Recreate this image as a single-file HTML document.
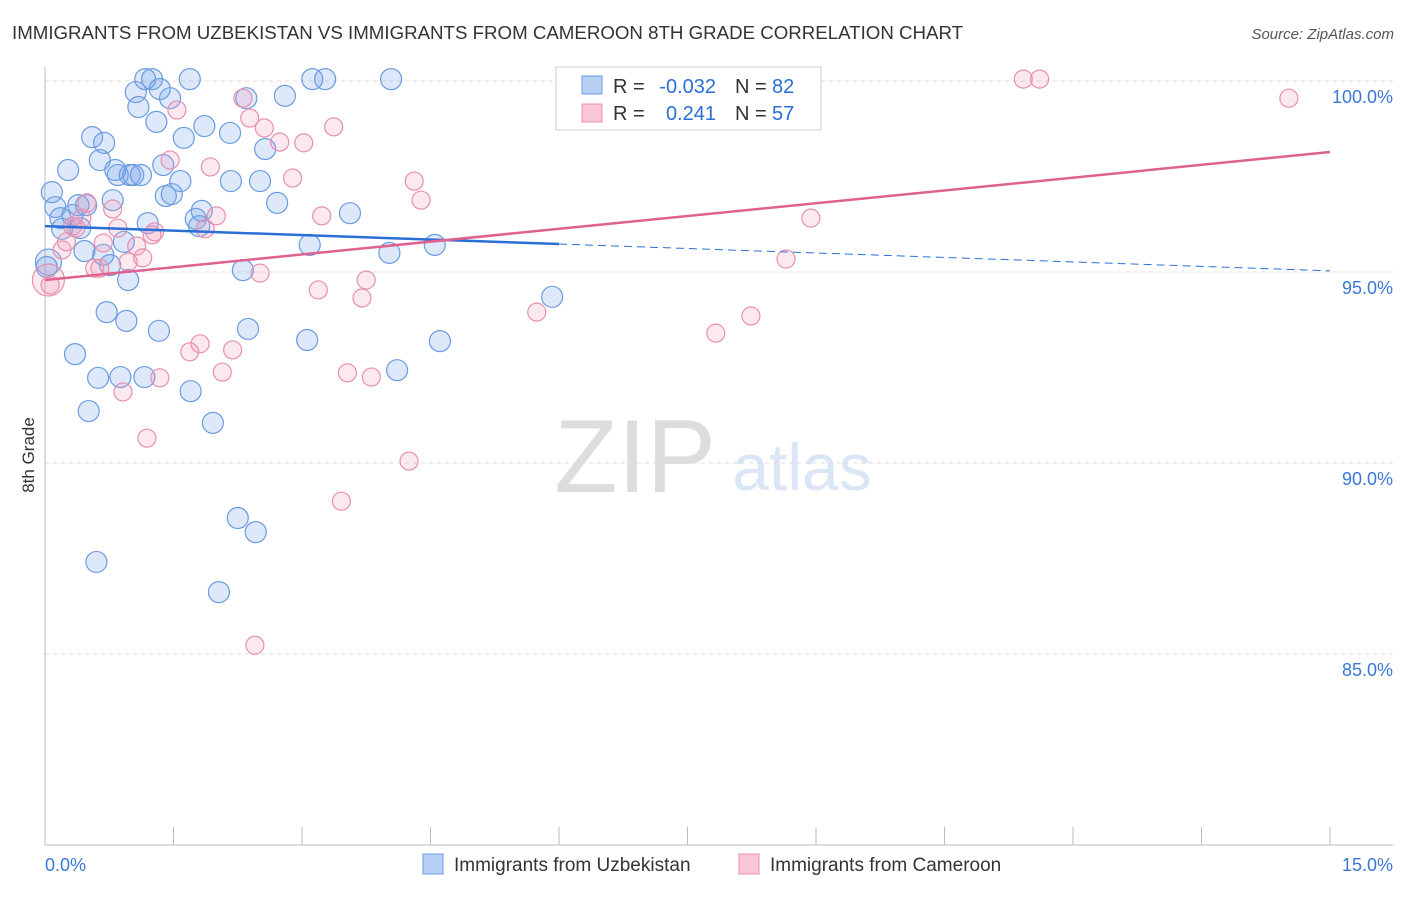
<!DOCTYPE html>
<html><head><meta charset="utf-8"><style>
body{margin:0;background:#fff;font-family:"Liberation Sans",sans-serif}
svg text{font-family:"Liberation Sans",sans-serif}
</style></head><body>
<svg id="c" width="1406" height="892">
<text x="12" y="39" font-size="18.7" fill="#333">IMMIGRANTS FROM UZBEKISTAN VS IMMIGRANTS FROM CAMEROON 8TH GRADE CORRELATION CHART</text>
<text x="1394" y="39" font-size="15" fill="#555" font-style="italic" text-anchor="end">Source: ZipAtlas.com</text>
<text transform="translate(34,455) rotate(-90)" font-size="17" fill="#333" text-anchor="middle">8th Grade</text>
<g><text x="635" y="492" font-size="104" fill="#ddd" font-family="Liberation Serif" text-anchor="middle">ZIP</text><text x="802" y="490" font-size="66" fill="#dae6f6" text-anchor="middle">atlas</text></g>
<g id="grid"></g><g id="axes"></g><g id="pts"></g><g id="lines"></g>
<g>
<rect x="556" y="67" width="265" height="63" fill="#fff" stroke="#ccc"/>
<rect x="582" y="76" width="20" height="18" fill="#b8d0f3" stroke="#6a9be0"/>
<rect x="582" y="104" width="20" height="18" fill="#f8c6d5" stroke="#e890ad"/>
<text x="613" y="93" font-size="20" fill="#333">R =</text>
<text x="716" y="93" font-size="20" fill="#2a6fd6" text-anchor="end">-0.032</text>
<text x="735" y="93" font-size="20" fill="#333">N =</text>
<text x="772" y="93" font-size="20" fill="#2a6fd6">82</text>
<text x="613" y="120" font-size="20" fill="#333">R =</text>
<text x="716" y="120" font-size="20" fill="#2a6fd6" text-anchor="end">0.241</text>
<text x="735" y="120" font-size="20" fill="#333">N =</text>
<text x="772" y="120" font-size="20" fill="#2a6fd6">57</text>
</g>
<g>
<rect x="423" y="854" width="20" height="20" fill="#b8d0f3" stroke="#6a9be0"/>
<text x="454" y="871" font-size="19" fill="#333">Immigrants from Uzbekistan</text>
<rect x="739" y="854" width="20" height="20" fill="#f8c6d5" stroke="#e890ad"/>
<text x="770" y="871" font-size="19" fill="#333">Immigrants from Cameroon</text>
</g>
</svg>
<script>
const blueX=[.08,.12,.04,.02,.18,.20,.27,.32,.35,.39,.41,.46,.48,.51,.55,.60,.62,.64,.68,.69,.72,.76,.79,.82,.85,.88,.92,.95,.97,.99,1.03,1.06,1.09,1.12,1.16,1.17,1.20,1.25,1.30,1.33,1.34,1.38,1.41,1.46,1.48,1.58,1.62,1.69,1.70,1.76,1.80,1.83,1.86,1.96,2.03,2.16,2.17,2.25,2.31,2.35,2.37,2.46,2.51,2.57,2.71,2.80,3.06,3.09,3.12,3.27,3.56,4.02,4.04,4.11,4.55,4.61,5.92];
const blueY=[97.09,96.70,95.26,95.13,96.41,96.13,97.67,96.49,92.85,96.75,96.15,95.55,96.75,91.36,98.53,87.41,92.23,97.93,95.45,98.38,93.95,95.18,96.88,97.67,97.54,92.25,95.79,93.72,94.79,97.54,97.54,99.71,99.32,97.54,92.25,100.05,96.28,100.05,98.93,93.46,99.79,97.80,96.99,99.55,97.04,97.38,98.51,100.05,91.88,96.39,96.20,96.60,98.82,91.05,86.62,98.64,97.38,88.56,95.05,99.55,93.51,88.19,97.38,98.22,96.81,99.61,93.22,95.71,100.05,100.05,96.54,95.50,100.05,92.43,95.71,93.19,94.35];
const pinkX=[.04,.06,.20,.25,.32,.36,.43,.49,.58,.64,.68,.79,.85,.91,.97,1.07,1.14,1.19,1.25,1.28,1.34,1.46,1.54,1.69,1.81,1.87,1.93,2.00,2.07,2.19,2.31,2.39,2.45,2.51,2.56,2.74,2.89,3.02,3.19,3.23,3.37,3.46,3.53,3.70,3.75,3.81,4.25,4.31,4.39,5.74,7.83,8.24,8.65,8.94,11.42,11.61,14.52];
const pinkY=[94.79,94.66,95.58,95.79,96.20,96.15,96.41,96.81,95.10,95.10,95.76,96.65,96.15,91.86,95.26,95.68,95.37,90.65,95.97,96.05,92.23,97.93,99.24,92.91,93.12,96.13,97.75,96.47,92.38,92.96,99.55,99.03,85.23,94.97,98.77,98.40,97.46,98.38,94.53,96.47,98.80,89.00,92.36,94.32,94.79,92.25,90.05,97.38,96.88,93.95,93.40,93.85,95.34,96.41,100.05,100.05,99.55];
const blueTrend=[96.20,95.03], pinkTrend=[94.79,98.14], blueSolidEnd=6.0;
const yTicks=[100,95,90,85], yTickLabels=["100.0%","95.0%","90.0%","85.0%"];
const xTicks=[0,1.5,3,4.5,6,7.5,9,10.5,12,13.5,15];
const NS="http://www.w3.org/2000/svg";
const X=v=>45+v*(1285/15), Y=v=>81+(100-v)*38.2;
function mk(t,a,p){const e=document.createElementNS(NS,t);for(const k in a)e.setAttribute(k,a[k]);p.appendChild(e);return e;}
const grid=document.getElementById('grid'),axes=document.getElementById('axes'),pts=document.getElementById('pts'),lines=document.getElementById('lines');
yTicks.forEach((v,i)=>{
 const l=mk('line',{x1:45,x2:1393,y1:Y(v),y2:Y(v),stroke:'#ddd','stroke-dasharray':'4,4'},grid);
 
 
 const t=mk('text',{x:1393,y:Y(v)+22,'font-size':18,fill:'#3a78d8','text-anchor':'end'},axes);
 t.textContent=yTickLabels[i];
 
 
});
const ya=mk('line',{x1:45,x2:45,y1:67,y2:845,stroke:'#bbb'},axes);


const xa=mk('line',{x1:45,x2:1393,y1:845,y2:845,stroke:'#bbb'},axes);


xTicks.forEach(v=>{
 const l=mk('line',{x1:X(v),x2:X(v),y1:827,y2:845,stroke:'#bbb'},axes);
 
 
});
const x0=mk('text',{x:45,y:871,'font-size':18,fill:'#3a78d8'},axes);x0.textContent='0.0%';


const x1=mk('text',{x:1393,y:871,'font-size':18,fill:'#3a78d8','text-anchor':'end'},axes);x1.textContent='15.0%';


blueX.forEach((v,i)=>{
 const c=mk('circle',{cx:X(v),cy:Y(blueY[i]),r:i==2?13:10.5,fill:'rgba(120,165,235,0.25)',stroke:'#6a9be0','stroke-width':1.2},pts);
 
 
});
pinkX.forEach((v,i)=>{
 const c=mk('circle',{cx:X(v),cy:Y(pinkY[i]),r:i==0?16:9,fill:'rgba(240,150,180,0.22)',stroke:'#e890ad','stroke-width':1.2},pts);
 
 
});
const by=x=>blueTrend[0]+(blueTrend[1]-blueTrend[0])*x/15;
const b1=mk('line',{x1:X(0),y1:Y(by(0)),x2:X(blueSolidEnd),y2:Y(by(blueSolidEnd)),stroke:'#2a6fd6','stroke-width':2.5},lines);


const b2=mk('line',{x1:X(blueSolidEnd),y1:Y(by(blueSolidEnd)),x2:X(15),y2:Y(by(15)),stroke:'#2a6fd6','stroke-width':1,'stroke-dasharray':'8,5'},lines);


const p1=mk('line',{x1:X(0),y1:Y(pinkTrend[0]),x2:X(15),y2:Y(pinkTrend[1]),stroke:'#e0608f','stroke-width':2.5},lines);


</script>
</body></html>
